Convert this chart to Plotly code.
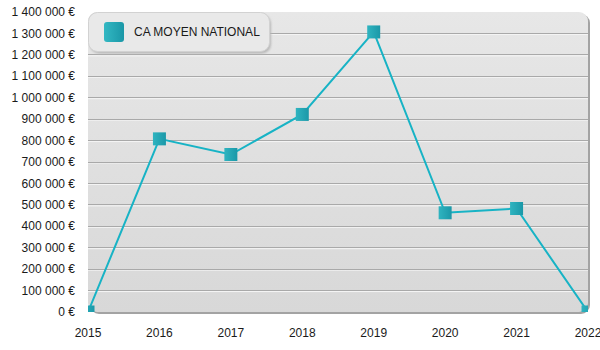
import base64
import plotly.graph_objects as go

# Average turnover per year
years = [2015, 2016, 2017, 2018, 2019, 2020, 2021, 2022]
ca_moyen = [0, 808000, 735000, 922000, 1307000, 463000, 483000, 0]
series_name = "CA MOYEN NATIONAL"

x_tick_values = [2015, 2016, 2017, 2018, 2019, 2020, 2021, 2022]
x_tick_labels = ["2015", "2016", "2017", "2018", "2019", "2020", "2021", "2022"]
y_tick_values = [0, 100000, 200000, 300000, 400000, 500000, 600000, 700000,
                 800000, 900000, 1000000, 1100000, 1200000, 1300000, 1400000]
y_tick_labels = ["0 €", "100 000 €", "200 000 €", "300 000 €", "400 000 €",
                 "500 000 €", "600 000 €", "700 000 €", "800 000 €", "900 000 €",
                 "1 000 000 €", "1 100 000 €", "1 200 000 €", "1 300 000 €",
                 "1 400 000 €"]

W, H = 600, 350
ML, MR, MT, MB = 88, 12, 12, 38
PW, PH = W - ML - MR, H - MT - MB

LINE_COLOR = "#17b3c5"
FONT = "Liberation Sans, Arial, sans-serif"


def svg_uri(svg):
    return "data:image/svg+xml;base64," + base64.b64encode(svg.encode()).decode()


# Rounded, shaded panel behind the plot area
bg_w, bg_h = PW + 3, PH + 3
panel_svg = f"""<svg xmlns="http://www.w3.org/2000/svg" width="{bg_w}" height="{bg_h}" viewBox="0 0 {bg_w} {bg_h}" preserveAspectRatio="none">
<defs><linearGradient id="g" x1="0" y1="0" x2="0" y2="1">
<stop offset="0" stop-color="#e7e7e7"/><stop offset="1" stop-color="#d8d8d8"/></linearGradient></defs>
<rect x="2" y="2" width="{PW}" height="{PH}" rx="9" ry="9" fill="#a3a3a3"/>
<rect x="0" y="0" width="{PW}" height="{PH}" rx="9" ry="9" fill="url(#g)"/>
</svg>"""

# Rounded legend box with its swatch
lg_w, lg_h = 186, 44
legend_svg = f"""<svg xmlns="http://www.w3.org/2000/svg" width="{lg_w}" height="{lg_h}" viewBox="0 0 {lg_w} {lg_h}" preserveAspectRatio="none">
<defs>
<linearGradient id="s" x1="0" y1="0" x2="1" y2="0">
<stop offset="0" stop-color="#33b8c3"/><stop offset="1" stop-color="#1a97a7"/></linearGradient>
<filter id="f" x="-10%" y="-10%" width="130%" height="140%"><feGaussianBlur stdDeviation="1.2"/></filter>
</defs>
<rect x="2" y="2.5" width="181" height="39" rx="9" ry="9" fill="#b8b8b8" filter="url(#f)"/>
<rect x="0.5" y="0.5" width="181" height="39" rx="9" ry="9" fill="#e9e9e9" stroke="#d2d2d2" stroke-width="1"/>
<rect x="16" y="10" width="20" height="20" rx="3" ry="3" fill="url(#s)"/>
</svg>"""

fig = go.Figure()

fig.add_trace(go.Scatter(
    x=years, y=ca_moyen, mode="lines+markers", name=series_name,
    showlegend=False,
    line=dict(color=LINE_COLOR, width=2),
    marker=dict(symbol="square", size=13, color="#2fb4c0",
                gradient=dict(type="horizontal", color="#1b98a8"),
                line=dict(width=0)),
    hovertemplate="%{x}: %{y:,.0f} €<extra></extra>",
))

# white highlight under each gridline
shapes = []
for v in y_tick_values[1:-1]:
    shapes.append(dict(
        type="line", xref="paper", x0=0, x1=1, yref="y", ysizemode="pixel",
        yanchor=v, y0=-1, y1=-1, layer="between",
        line=dict(color="#f6f6f6", width=1),
    ))

fig.update_layout(
    width=W, height=H,
    margin=dict(l=ML, r=MR, t=MT, b=MB, pad=0, autoexpand=False),
    paper_bgcolor="white",
    plot_bgcolor="rgba(0,0,0,0)",
    font=dict(family=FONT, size=12, color="#1a1a1a"),
    showlegend=False,
    xaxis=dict(
        range=[2015, 2022], tickmode="array",
        tickvals=x_tick_values, ticktext=x_tick_labels,
        showgrid=False, zeroline=False, showline=False,
        ticks="", ticklabelstandoff=12, automargin=False,
        ticklabeloverflow="allow",
        tickfont=dict(family=FONT, size=12, color="#1a1a1a"),
    ),
    yaxis=dict(
        range=[0, 1400000], tickmode="array",
        tickvals=y_tick_values, ticktext=y_tick_labels,
        showgrid=True, gridcolor="#a9a9a9", gridwidth=1,
        zeroline=False, showline=False,
        ticks="", ticklabelstandoff=12, automargin=False,
        ticklabeloverflow="allow",
        tickfont=dict(family=FONT, size=12, color="#1a1a1a"),
    ),
    shapes=shapes,
    images=[
        dict(source=svg_uri(panel_svg), xref="paper", yref="paper",
             x=0, y=1, sizex=bg_w / PW, sizey=bg_h / PH,
             xanchor="left", yanchor="top", sizing="stretch", layer="below"),
        dict(source=svg_uri(legend_svg), xref="paper", yref="paper",
             x=0, y=1, sizex=lg_w / PW, sizey=lg_h / PH,
             xanchor="left", yanchor="top", sizing="stretch", layer="above"),
    ],
    annotations=[
        dict(text=series_name, xref="paper", yref="paper",
             x=(132 - ML) / PW, y=(PH - (32 - MT)) / PH,
             xanchor="left", yanchor="middle", showarrow=False,
             font=dict(family=FONT, size=12, color="#1a1a1a")),
    ],
)

fig.write_html("out.html")
